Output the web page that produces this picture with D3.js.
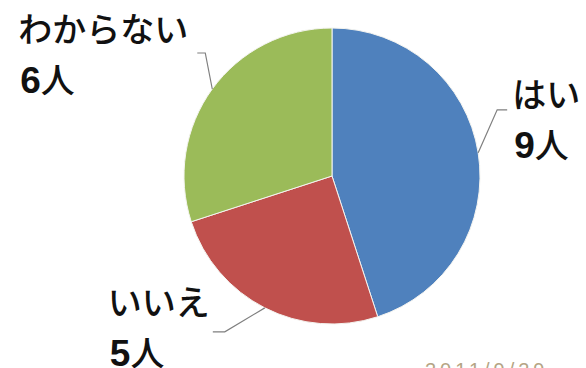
<!DOCTYPE html>
<html><head><meta charset="utf-8">
<script src="https://cdn.jsdelivr.net/npm/d3@7"></script>
<style>html,body{margin:0;padding:0;background:#fff;}</style>
</head><body>
<svg id="chart" width="586" height="368"></svg>
<script>
const categories = ["はい", "いいえ", "わからない"];
const values = [9, 5, 6];
const unitLabels = ["9", "5", "6"];
const colors = ["#4F81BD", "#C0504D", "#9BBB59"];
const dateText = "2011/9/29";

const W = 586, H = 368;
const cx = 332, cy = 176, R = 148;
// label layout (offsets from slice-edge anchor): elbow offset, text start
const labelLayout = [
  {elbow:[19,-43], end:[29,-43], tx:34, ty:-46},
  {elbow:[-40,24], end:[-52,24], tx:-157, ty:7},
  {elbow:[-7,-36], end:[-15,-36], tx:-194, ty:-47}
];

const svg = d3.select("#chart");
const g = svg.append("g").attr("transform", `translate(${cx},${cy})`);

const pie = d3.pie().sort(null).value(d => d.v);
const data = categories.map((c,i)=>({c, v: values[i], n: unitLabels[i], col: colors[i]}));
const arcs = pie(data);
const arc = d3.arc().innerRadius(0).outerRadius(R);

g.selectAll("path.slice").data(arcs).join("path")
  .attr("class","slice")
  .attr("d", arc)
  .attr("fill", d => d.data.col)
  .attr("stroke", "#f4f4f0")
  .attr("stroke-width", 1);

arcs.forEach((a, i) => {
  const mid = (a.startAngle + a.endAngle) / 2;
  const px = R * Math.sin(mid), py = -R * Math.cos(mid);
  const L = labelLayout[i];
  g.append("polyline")
    .attr("points", [[px,py],[px+L.elbow[0],py+L.elbow[1]],[px+L.end[0],py+L.end[1]]].map(p=>p.join(",")).join(" "))
    .attr("fill","none").attr("stroke","#7f7f7f").attr("stroke-width",1.2);
  g.append("text")
    .attr("x", px + L.tx).attr("y", py + L.ty)
    .attr("font-family", "'Noto Sans CJK JP', sans-serif")
    .attr("font-weight", 500)
    .attr("font-size", 34).attr("fill", "#111")
    .text(a.data.c);
  const t2 = g.append("text")
    .attr("x", px + L.tx + 2).attr("y", py + L.ty + 51)
    .attr("font-family", "'Noto Sans CJK JP', sans-serif")
    .attr("font-weight", 500)
    .attr("font-size", 34).attr("fill", "#111");
  t2.append("tspan").attr("font-family","'Liberation Sans', Arial, sans-serif").attr("font-weight","bold").attr("font-size",37).text(a.data.n);
  t2.append("tspan").text("人");
});

svg.append("text")
  .attr("x", 425).attr("y", 377)
  .attr("font-family", "'Liberation Sans', Arial, sans-serif")
  .attr("font-size", 20).attr("letter-spacing", 4)
  .attr("fill", "#b5a585")
  .text(dateText);
</script>
</body></html>
